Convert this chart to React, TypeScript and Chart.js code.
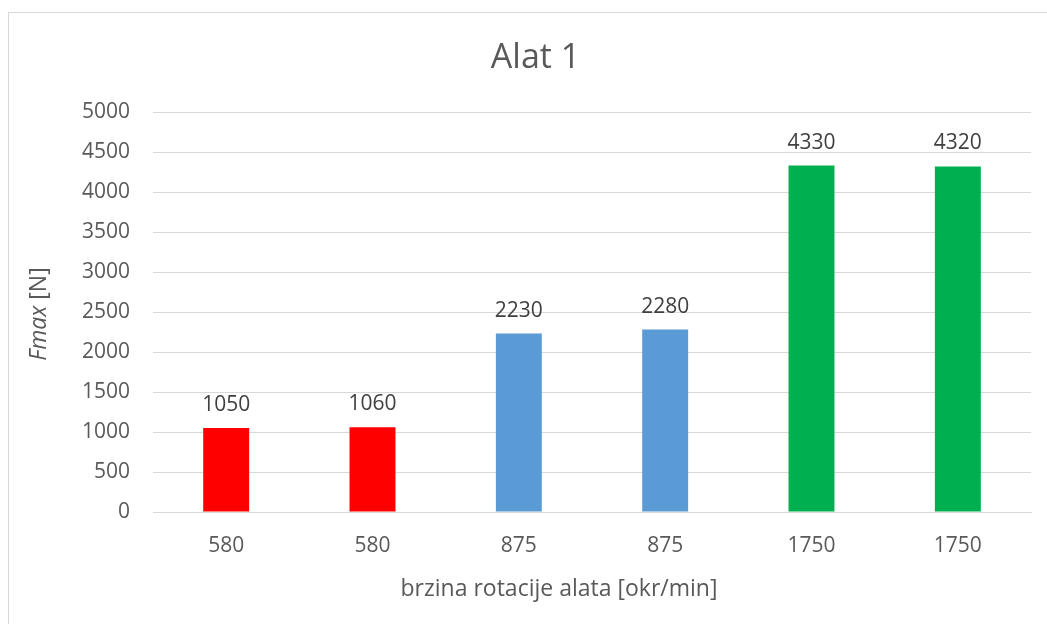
import React, { useEffect, useRef } from "react";
import { Chart, registerables } from "chart.js";

Chart.register(...registerables);

const categories = ["580", "580", "875", "875", "1750", "1750"];
const fmaxValues = [1050, 1060, 2230, 2280, 4330, 4320];
const barColors = ["#FF0000", "#FF0000", "#5B9BD5", "#5B9BD5", "#00B050", "#00B050"];
const yTicks = [0, 500, 1000, 1500, 2000, 2500, 3000, 3500, 4000, 4500, 5000];

const chartTitle = "Alat 1";
const xTitle = "brzina rotacije alata [okr/min]";
const yTitleItalic = "Fmax";
const yTitleRest = " [N]";

const FONT = "'Open Sans', 'Noto Sans', sans-serif";
const TEXT = "#595959";

const textPlugin = {
  id: "texts",
  afterDatasetsDraw(chart: any) {
    const ctx = chart.ctx;
    ctx.save();
    // data labels
    const meta = chart.getDatasetMeta(0);
    ctx.fillStyle = "#404040";
    ctx.font = `21px ${FONT}`;
    ctx.textAlign = "center";
    ctx.textBaseline = "alphabetic";
    meta.data.forEach((bar: any, i: number) => {
      ctx.fillText(String(fmaxValues[i]), bar.x, bar.y - 17);
    });
    // title
    ctx.fillStyle = TEXT;
    ctx.font = `34px ${FONT}`;
    ctx.textBaseline = "middle";
    ctx.fillText(chartTitle, chart.width / 2, 45);
    // x title
    ctx.font = `23px ${FONT}`;
    ctx.fillText(xTitle, 550, 576);
    // y title
    ctx.translate(30, (chart.chartArea.top + chart.chartArea.bottom) / 2 + 2);
    ctx.rotate(-Math.PI / 2);
    ctx.font = `italic 23px ${FONT}`;
    const w1 = ctx.measureText(yTitleItalic).width;
    ctx.font = `23px ${FONT}`;
    const w2 = ctx.measureText(yTitleRest).width;
    const start = -(w1 + w2) / 2;
    ctx.textAlign = "left";
    ctx.font = `italic 23px ${FONT}`;
    ctx.fillText(yTitleItalic, start, 0);
    ctx.font = `23px ${FONT}`;
    ctx.fillText(yTitleRest, start + w1, 0);
    ctx.restore();
  },
};

export default function App() {
  const ref = useRef<HTMLCanvasElement | null>(null);
  useEffect(() => {
    if (!ref.current) return;
    const chart = new Chart(ref.current, {
      type: "bar",
      data: {
        labels: categories,
        datasets: [
          {
            data: fmaxValues,
            backgroundColor: barColors,
            barPercentage: 0.314,
            categoryPercentage: 1,
          },
        ],
      },
      options: {
        animation: false,
        responsive: false,
        layout: { padding: { top: 99, right: 31, left: 0, bottom: 0 } },
        plugins: { legend: { display: false }, tooltip: { enabled: false }, title: { display: false } },
        scales: {
          x: {
            grid: { display: false, drawTicks: false },
            border: { display: true, color: "#D9D9D9", width: 1 },
            ticks: { color: TEXT, font: { family: FONT, size: 21 }, padding: 21 },
            afterFit: (s: any) => {
              s.height = 121;
            },
          },
          y: {
            min: 0,
            max: 5000,
            afterBuildTicks: (s: any) => {
              s.ticks = yTicks.map((v) => ({ value: v }));
            },
            grid: { color: "#D9D9D9", drawTicks: false },
            border: { display: false },
            ticks: {
              color: TEXT,
              font: { family: FONT, size: 21 },
              padding: 23,
              callback: (v: any) => String(v),
            },
            afterFit: (s: any) => {
              s.width = 144;
            },
          },
        },
      },
      plugins: [textPlugin],
    });
    return () => chart.destroy();
  }, []);
  return (
    <div
      style={{
        position: "fixed",
        left: 8,
        top: 12,
        width: 1100,
        height: 700,
        border: "1px solid #D9D9D9",
        background: "#fff",
      }}
    >
      <canvas ref={ref} width={1053} height={620} style={{ display: "block" }} />
    </div>
  );
}
